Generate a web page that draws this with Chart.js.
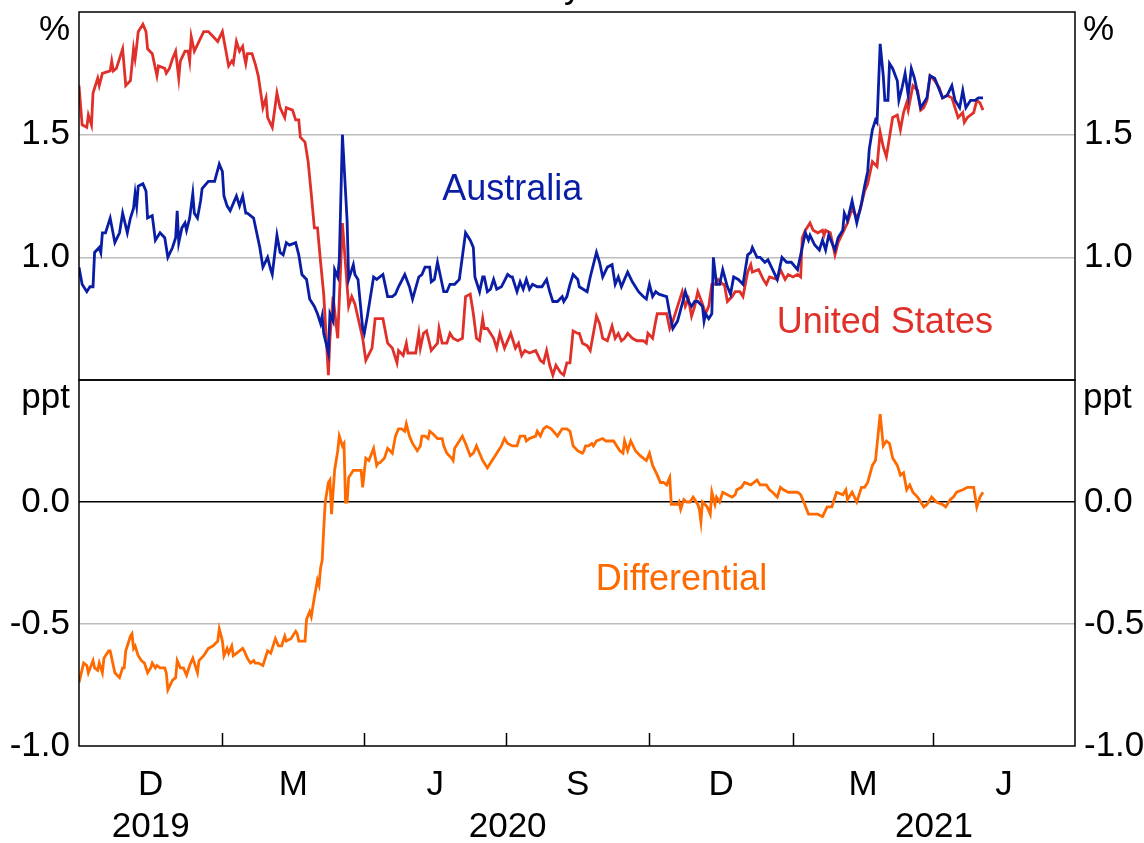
<!DOCTYPE html>
<html><head><meta charset="utf-8">
<script src="https://cdn.jsdelivr.net/npm/chart.js@4.4.1/dist/chart.umd.min.js"></script>
<style>
html,body{margin:0;padding:0;background:#fff;}
#wrap{position:relative;width:1144px;height:843px;overflow:hidden;background:#fff;}
#topc{position:absolute;left:0;top:0;}
#botc{position:absolute;left:0;top:370px;}
</style></head><body>
<div id="wrap"><canvas id="topc" width="1144" height="381"></canvas><canvas id="botc" width="1144" height="473"></canvas></div>
<script>
// x values: days since 1 October 2019
const quarterDays = [0, 92, 183, 274, 366, 458, 548, 639];
const monthLabels = ['D', 'M', 'J', 'S', 'D', 'M', 'J'];
const yearLabels = ['2019', '2020', '2021'];
const yearCentres = [46, 275, 548.5];
const topTicks = [1.0, 1.5];
const bottomTicks = [-1.0, -0.5, 0.0];

// Australia, % [day, value]
const australia = [[0,0.96],[2,0.89],[5,0.86],[7,0.88],[9,0.88],[10,1.02],[13,1.04],[14,1.02],[15,1.10],[17,1.10],[20,1.16],[23,1.06],[26,1.10],[28,1.18],[31,1.10],[33,1.16],[35,1.20],[36,1.26],[37,1.21],[38,1.29],[41,1.30],[43,1.27],[44,1.16],[47,1.17],[49,1.07],[52,1.10],[55,1.08],[57,1.00],[60,1.04],[62,1.08],[63,1.19],[64,1.06],[66,1.12],[68,1.14],[69,1.11],[71,1.16],[73,1.26],[74,1.18],[76,1.16],[78,1.23],[79,1.28],[83,1.31],[87,1.31],[90,1.38],[92,1.35],[93,1.25],[95,1.21],[97,1.19],[99,1.22],[101,1.25],[103,1.21],[105,1.25],[107,1.18],[108,1.18],[112,1.16],[114,1.10],[116,1.04],[118,0.96],[121,1.00],[123,0.95],[124,0.93],[127,1.09],[129,1.02],[131,1.01],[133,1.06],[135,1.05],[139,1.06],[141,1.01],[143,0.93],[146,0.91],[148,0.83],[151,0.80],[153,0.77],[155,0.73],[156,0.76],[157,0.69],[160,0.61],[161,0.77],[163,0.74],[164,0.95],[166,0.92],[167,0.99],[169,1.50],[172,1.15],[173,0.91],[176,0.97],[177,0.93],[179,0.91],[182,0.71],[183,0.69],[185,0.76],[189,0.92],[191,0.91],[195,0.93],[198,0.84],[201,0.84],[203,0.85],[205,0.88],[209,0.93],[212,0.88],[214,0.83],[218,0.92],[220,0.93],[222,0.96],[225,0.96],[226,0.90],[228,0.91],[230,0.98],[234,0.86],[236,0.86],[238,0.89],[241,0.89],[244,0.91],[248,1.10],[251,1.07],[253,1.04],[254,0.92],[257,0.86],[259,0.92],[260,0.92],[262,0.86],[264,0.87],[266,0.91],[268,0.87],[271,0.88],[275,0.93],[277,0.92],[278,0.92],[281,0.86],[283,0.90],[285,0.87],[287,0.91],[289,0.87],[291,0.89],[294,0.88],[297,0.88],[300,0.91],[302,0.86],[304,0.82],[307,0.82],[310,0.84],[311,0.82],[313,0.84],[315,0.89],[317,0.93],[320,0.91],[321,0.88],[326,0.86],[328,0.92],[330,0.97],[332,1.02],[334,0.98],[336,0.92],[339,0.96],[342,0.97],[344,0.89],[346,0.92],[348,0.88],[350,0.91],[352,0.94],[355,0.90],[359,0.86],[362,0.84],[364,0.83],[366,0.89],[368,0.84],[370,0.86],[372,0.85],[377,0.84],[379,0.77],[381,0.71],[384,0.74],[387,0.81],[389,0.86],[391,0.82],[393,0.80],[395,0.82],[397,0.82],[400,0.80],[401,0.74],[402,0.77],[404,0.75],[406,0.77],[407,1.00],[409,0.89],[411,0.89],[413,0.95],[416,0.88],[418,0.85],[420,0.92],[423,0.91],[426,0.89],[429,1.01],[431,1.02],[432,1.04],[435,1.00],[437,1.00],[440,0.98],[442,0.99],[445,0.95],[448,0.91],[451,1.00],[454,0.98],[457,0.98],[461,0.95],[464,1.04],[466,1.10],[468,1.07],[469,1.09],[472,1.05],[475,1.03],[477,1.07],[479,1.03],[481,1.09],[483,1.06],[485,1.03],[487,1.08],[490,1.11],[491,1.18],[493,1.15],[496,1.23],[499,1.14],[502,1.22],[504,1.29],[506,1.35],[507,1.44],[509,1.52],[511,1.56],[512,1.55],[513,1.71],[514,1.87],[516,1.74],[517,1.64],[519,1.64],[520,1.79],[522,1.77],[525,1.72],[526,1.64],[528,1.69],[530,1.75],[532,1.66],[534,1.77],[536,1.73],[540,1.61],[542,1.63],[544,1.65],[546,1.74],[549,1.73],[554,1.65],[557,1.66],[560,1.70],[562,1.64],[565,1.61],[567,1.68],[569,1.61],[572,1.64],[575,1.64],[577,1.65],[580,1.65]];

// United States, % [day, value]
const unitedStates = [[0,1.70],[2,1.54],[5,1.53],[6,1.58],[8,1.54],[9,1.67],[12,1.73],[13,1.70],[15,1.75],[20,1.76],[21,1.80],[22,1.76],[24,1.77],[28,1.85],[30,1.70],[33,1.72],[35,1.85],[36,1.81],[37,1.86],[38,1.92],[41,1.95],[43,1.92],[44,1.85],[47,1.83],[50,1.74],[51,1.78],[55,1.77],[56,1.75],[58,1.77],[60,1.81],[62,1.84],[64,1.73],[65,1.80],[68,1.84],[70,1.84],[71,1.80],[72,1.90],[74,1.84],[77,1.88],[80,1.92],[83,1.92],[86,1.90],[89,1.88],[92,1.92],[94,1.85],[96,1.78],[98,1.80],[99,1.79],[101,1.88],[103,1.84],[105,1.86],[106,1.82],[107,1.79],[108,1.83],[111,1.83],[113,1.79],[115,1.74],[118,1.61],[120,1.65],[121,1.57],[124,1.53],[127,1.67],[129,1.61],[132,1.57],[133,1.61],[137,1.60],[139,1.56],[141,1.56],[142,1.49],[145,1.47],[147,1.39],[149,1.26],[151,1.12],[153,1.12],[155,0.98],[157,0.85],[160,0.52],[161,0.67],[163,0.84],[166,0.67],[169,1.14],[173,0.80],[175,0.84],[177,0.81],[182,0.67],[184,0.58],[188,0.63],[190,0.75],[195,0.75],[198,0.65],[201,0.63],[204,0.57],[205,0.62],[208,0.60],[210,0.65],[211,0.61],[214,0.61],[216,0.61],[218,0.69],[219,0.63],[221,0.69],[223,0.70],[226,0.62],[230,0.65],[231,0.71],[233,0.65],[236,0.65],[238,0.69],[240,0.67],[243,0.66],[246,0.67],[248,0.84],[251,0.85],[253,0.77],[255,0.67],[257,0.66],[259,0.75],[260,0.71],[262,0.71],[266,0.67],[268,0.63],[270,0.69],[273,0.63],[277,0.69],[280,0.63],[282,0.65],[284,0.60],[286,0.62],[289,0.61],[293,0.62],[296,0.58],[298,0.57],[300,0.62],[302,0.56],[304,0.52],[306,0.56],[309,0.53],[311,0.52],[313,0.57],[315,0.57],[317,0.70],[320,0.69],[321,0.69],[323,0.65],[326,0.64],[328,0.62],[330,0.69],[332,0.76],[334,0.73],[336,0.67],[339,0.66],[342,0.72],[344,0.67],[346,0.69],[348,0.66],[350,0.67],[352,0.69],[355,0.67],[358,0.66],[362,0.66],[364,0.65],[365,0.69],[368,0.67],[370,0.74],[371,0.77],[376,0.77],[377,0.77],[379,0.71],[381,0.74],[384,0.80],[387,0.86],[389,0.80],[391,0.83],[393,0.76],[395,0.80],[397,0.86],[400,0.81],[402,0.77],[404,0.80],[406,0.89],[408,0.89],[410,0.91],[413,0.89],[414,0.89],[416,0.82],[419,0.84],[421,0.86],[424,0.86],[426,0.84],[429,0.94],[431,0.97],[432,0.94],[436,0.95],[439,0.91],[441,0.89],[443,0.92],[448,0.91],[450,0.95],[453,0.91],[455,0.93],[458,0.92],[461,0.93],[463,0.92],[464,1.08],[466,1.11],[469,1.14],[471,1.11],[474,1.10],[477,1.11],[478,1.09],[479,1.11],[482,1.10],[485,1.01],[487,1.06],[490,1.10],[493,1.14],[496,1.20],[499,1.16],[501,1.19],[504,1.27],[506,1.30],[507,1.33],[509,1.39],[512,1.37],[514,1.51],[516,1.45],[518,1.41],[522,1.57],[525,1.58],[527,1.52],[529,1.59],[531,1.63],[532,1.60],[535,1.70],[538,1.68],[540,1.60],[542,1.61],[544,1.64],[546,1.74],[549,1.72],[552,1.69],[554,1.65],[557,1.66],[560,1.65],[562,1.61],[564,1.57],[567,1.59],[568,1.55],[570,1.57],[574,1.59],[576,1.64],[578,1.63],[580,1.60]];

// Differential, ppt [day, value]
const differential = [[0,-0.74],[3,-0.66],[5,-0.67],[6,-0.70],[9,-0.65],[10,-0.68],[12,-0.69],[13,-0.66],[15,-0.70],[16,-0.64],[19,-0.61],[20,-0.61],[23,-0.70],[26,-0.72],[28,-0.68],[29,-0.68],[30,-0.61],[33,-0.55],[34,-0.54],[35,-0.60],[36,-0.59],[38,-0.63],[40,-0.65],[42,-0.66],[44,-0.70],[46,-0.68],[47,-0.66],[49,-0.68],[50,-0.67],[52,-0.68],[55,-0.68],[56,-0.70],[57,-0.77],[60,-0.73],[62,-0.72],[63,-0.65],[65,-0.68],[67,-0.68],[69,-0.71],[71,-0.67],[73,-0.64],[76,-0.70],[77,-0.65],[80,-0.63],[83,-0.60],[86,-0.59],[89,-0.57],[90,-0.52],[92,-0.57],[93,-0.63],[95,-0.60],[96,-0.62],[98,-0.59],[99,-0.63],[101,-0.62],[105,-0.60],[106,-0.61],[108,-0.64],[110,-0.66],[112,-0.65],[113,-0.66],[115,-0.66],[118,-0.67],[121,-0.61],[123,-0.62],[124,-0.60],[126,-0.56],[128,-0.59],[130,-0.59],[132,-0.55],[133,-0.57],[136,-0.56],[139,-0.53],[140,-0.54],[141,-0.57],[145,-0.57],[146,-0.48],[148,-0.45],[149,-0.47],[151,-0.39],[153,-0.32],[154,-0.34],[155,-0.27],[156,-0.24],[157,-0.11],[158,0.00],[160,0.08],[161,0.09],[162,-0.05],[164,0.13],[166,0.21],[167,0.27],[169,0.23],[170,0.24],[171,0.00],[172,0.00],[173,0.10],[175,0.12],[176,0.13],[181,0.13],[182,0.06],[184,0.18],[186,0.17],[189,0.22],[191,0.15],[192,0.16],[193,0.16],[196,0.18],[198,0.22],[201,0.20],[203,0.27],[205,0.30],[207,0.30],[209,0.29],[210,0.32],[212,0.27],[214,0.24],[217,0.21],[219,0.23],[220,0.27],[222,0.27],[224,0.26],[225,0.29],[227,0.28],[230,0.26],[233,0.26],[234,0.23],[236,0.20],[239,0.18],[240,0.17],[241,0.22],[243,0.24],[246,0.27],[248,0.24],[251,0.19],[253,0.20],[255,0.23],[257,0.20],[259,0.17],[260,0.16],[262,0.14],[264,0.16],[267,0.19],[269,0.21],[271,0.23],[273,0.26],[275,0.24],[278,0.23],[281,0.23],[283,0.27],[286,0.27],[287,0.25],[289,0.26],[293,0.27],[294,0.29],[296,0.27],[298,0.30],[300,0.31],[303,0.30],[307,0.27],[310,0.30],[313,0.30],[315,0.29],[317,0.23],[320,0.21],[323,0.20],[324,0.21],[325,0.23],[327,0.23],[329,0.24],[330,0.23],[332,0.25],[336,0.26],[338,0.25],[343,0.25],[345,0.23],[347,0.21],[349,0.20],[350,0.25],[352,0.21],[354,0.25],[357,0.21],[360,0.19],[362,0.18],[364,0.17],[366,0.20],[368,0.15],[371,0.11],[373,0.08],[375,0.08],[377,0.07],[379,0.10],[380,-0.01],[384,-0.01],[385,0.00],[386,-0.03],[388,0.01],[390,0.00],[392,0.00],[394,0.02],[397,-0.01],[398,-0.03],[399,-0.08],[400,0.00],[403,-0.02],[405,-0.05],[406,0.04],[408,-0.01],[409,0.02],[411,0.00],[413,0.04],[416,0.03],[419,0.02],[421,0.03],[422,0.05],[425,0.06],[427,0.08],[431,0.07],[435,0.09],[437,0.07],[439,0.07],[441,0.07],[443,0.05],[445,0.04],[448,0.02],[450,0.06],[452,0.05],[455,0.04],[457,0.04],[461,0.04],[463,0.03],[465,0.00],[468,-0.05],[471,-0.05],[474,-0.05],[477,-0.06],[480,-0.02],[483,-0.02],[486,0.04],[490,0.03],[492,0.05],[493,0.01],[496,0.04],[499,0.00],[502,0.06],[504,0.06],[506,0.08],[509,0.15],[511,0.17],[514,0.36],[516,0.23],[518,0.25],[520,0.24],[522,0.18],[525,0.15],[527,0.11],[529,0.12],[531,0.05],[533,0.07],[535,0.04],[538,0.02],[542,-0.02],[544,-0.01],[547,0.02],[550,0.00],[554,-0.01],[556,-0.02],[559,0.01],[561,0.02],[563,0.04],[567,0.05],[570,0.06],[574,0.06],[576,-0.02],[578,0.02],[580,0.04]];

const FONT = "'Liberation Sans', Arial, Helvetica, sans-serif";
const BLUE = '#0A1EA5', RED = '#E0302A', ORANGE = '#FF6A00';
const toXY = arr => arr.map(p => ({x: p[0], y: p[1]}));

function yAxis(pos, min, max, ticksList, gridColorFn) {
  return {
    type: 'linear', position: pos, min: min, max: max,
    afterBuildTicks: s => { s.ticks = ticksList.map(v => ({value: v})); },
    afterFit: s => { s.width = pos === 'left' ? 79 : 69; s.paddingTop = 0; s.paddingBottom = 0; },
    ticks: {padding: 9, color: '#000', font: {family: FONT, size: 35}, callback: v => Number(v).toFixed(1)},
    grid: {display: pos === 'left', drawTicks: false, lineWidth: 1.5, color: c => gridColorFn(c.tick ? c.tick.value : null)},
    border: {display: false}
  };
}

function decoPlugin(unit, labels, withTicks, title) {
  return {
    id: 'deco',
    afterDatasetsDraw(chart) {
      const ctx = chart.ctx, a = chart.chartArea, xs = chart.scales.x, ys = chart.scales.y;
      ctx.save();
      ctx.strokeStyle = '#000'; ctx.lineWidth = 1.5;
      ctx.strokeRect(a.left, a.top, a.right - a.left, a.bottom - a.top);
      if (withTicks) {
        quarterDays.slice(1, -1).forEach(d => {
          const px = Math.round(xs.getPixelForValue(d)) + 0.5;
          ctx.beginPath(); ctx.moveTo(px, a.bottom); ctx.lineTo(px, a.bottom - 13); ctx.stroke();
        });
      }
      ctx.fillStyle = '#000'; ctx.font = '35px ' + FONT; ctx.textBaseline = 'middle';
      ctx.textAlign = 'right'; ctx.fillText(unit, a.left - 9, a.top + 18);
      ctx.textAlign = 'left'; ctx.fillText(unit, a.right + 8, a.top + 18);
      ctx.font = '36px ' + FONT; ctx.textAlign = 'center'; ctx.textBaseline = 'alphabetic';
      labels.forEach(l => {
        ctx.fillStyle = l.color;
        ctx.fillText(l.text, xs.getPixelForValue(l.day), ys.getPixelForValue(l.value));
      });
      if (title) {
        ctx.fillStyle = '#000'; ctx.font = '36px ' + FONT;
        ctx.fillText(title, xs.getPixelForValue(317), -3);
      }
      ctx.restore();
    }
  };
}

const lineDs = (label, arr, color) => ({
  label: label, data: toXY(arr), borderColor: color, borderWidth: 2.8,
  pointRadius: 0, tension: 0, fill: false, yAxisID: 'y'
});

new Chart(document.getElementById('topc'), {
  type: 'line',
  data: {datasets: [lineDs('Australia', australia, BLUE), lineDs('United States', unitedStates, RED)]},
  options: {
    responsive: false, animation: false, events: [],
    layout: {padding: {top: 12, bottom: 1, left: 0, right: 0}},
    plugins: {legend: {display: false}, tooltip: {enabled: false}},
    scales: {
      x: {type: 'linear', min: 0, max: 639, display: false},
      y: yAxis('left', 0.5, 2.0, topTicks, v => (v === 1 || v === 1.5) ? '#BDBDBD' : 'rgba(0,0,0,0)'),
      yR: yAxis('right', 0.5, 2.0, topTicks, v => 'rgba(0,0,0,0)')
    }
  },
  plugins: [decoPlugin('%', [
    {text: 'Australia', color: BLUE, day: 278, value: 1.234},
    {text: 'United States', color: RED, day: 517, value: 0.693}
  ], false, 'y')]
});

new Chart(document.getElementById('botc'), {
  type: 'line',
  data: {datasets: [lineDs('Differential', differential, ORANGE)]},
  options: {
    responsive: false, animation: false, events: [],
    layout: {padding: {top: 10, bottom: 0, left: 0, right: 0}},
    plugins: {legend: {display: false}, tooltip: {enabled: false}},
    scales: {
      x: {
        type: 'linear', position: 'bottom', min: 0, max: 639, weight: 0,
        afterBuildTicks: s => { s.ticks = monthLabels.map((m, i) => ({value: (quarterDays[i] + quarterDays[i + 1]) / 2})); },
        afterFit: s => { s.height = 55; s.paddingLeft = 0; s.paddingRight = 0; },
        ticks: {autoSkip: false, maxRotation: 0, padding: 18, color: '#000', font: {family: FONT, size: 35},
          callback: (v, i) => monthLabels[i]},
        grid: {display: false, drawTicks: false}, border: {display: false}
      },
      xYear: {
        type: 'linear', position: 'bottom', min: 0, max: 639, weight: 1,
        afterBuildTicks: s => { s.ticks = yearCentres.map(v => ({value: v})); },
        afterFit: s => { s.height = 42; s.paddingLeft = 0; s.paddingRight = 0; },
        ticks: {autoSkip: false, maxRotation: 0, padding: 5, color: '#000', font: {family: FONT, size: 35},
          callback: (v, i) => yearLabels[i]},
        grid: {display: false, drawTicks: false}, border: {display: false}
      },
      y: yAxis('left', -1.0, 0.5, bottomTicks, v => v === 0 ? '#000' : (v === -0.5 ? '#BDBDBD' : 'rgba(0,0,0,0)')),
      yR: yAxis('right', -1.0, 0.5, bottomTicks, v => 'rgba(0,0,0,0)')
    }
  },
  plugins: [decoPlugin('ppt', [
    {text: 'Differential', color: ORANGE, day: 386.5, value: -0.361}
  ], true, null)]
});
</script>
</body></html>
